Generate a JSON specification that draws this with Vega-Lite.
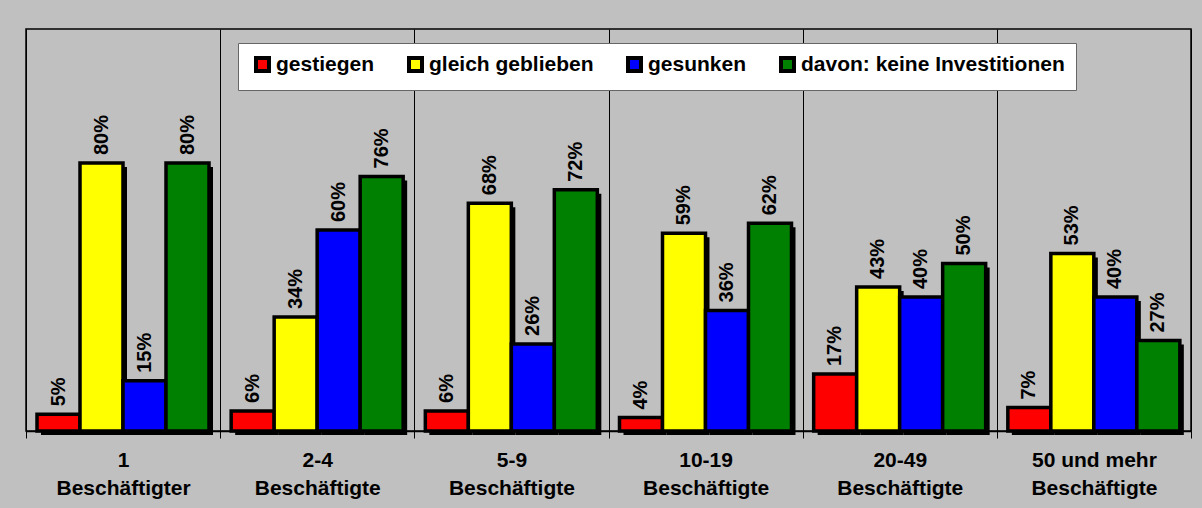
{
  "$schema": "https://vega.github.io/schema/vega-lite/v6.json",
  "width": 1165,
  "height": 402,
  "padding": {"left": 25, "top": 29, "right": 12, "bottom": 20},
  "background": "#c0c0c0",
  "config": {
    "view": {"stroke": "#000000", "strokeWidth": 1.5},
    "font": "Liberation Sans",
    "legend": {"symbolStrokeWidth": 4, "symbolStrokeColor": "#000000"}
  },
  "data": {
    "values": [
      {"gruppe": "1|Beschäftigter", "serie": "gestiegen", "wert": 0.05},
      {"gruppe": "1|Beschäftigter", "serie": "gleich geblieben", "wert": 0.80},
      {"gruppe": "1|Beschäftigter", "serie": "gesunken", "wert": 0.15},
      {"gruppe": "1|Beschäftigter", "serie": "davon: keine Investitionen", "wert": 0.80},
      {"gruppe": "2-4|Beschäftigte", "serie": "gestiegen", "wert": 0.06},
      {"gruppe": "2-4|Beschäftigte", "serie": "gleich geblieben", "wert": 0.34},
      {"gruppe": "2-4|Beschäftigte", "serie": "gesunken", "wert": 0.60},
      {"gruppe": "2-4|Beschäftigte", "serie": "davon: keine Investitionen", "wert": 0.76},
      {"gruppe": "5-9|Beschäftigte", "serie": "gestiegen", "wert": 0.06},
      {"gruppe": "5-9|Beschäftigte", "serie": "gleich geblieben", "wert": 0.68},
      {"gruppe": "5-9|Beschäftigte", "serie": "gesunken", "wert": 0.26},
      {"gruppe": "5-9|Beschäftigte", "serie": "davon: keine Investitionen", "wert": 0.72},
      {"gruppe": "10-19|Beschäftigte", "serie": "gestiegen", "wert": 0.04},
      {"gruppe": "10-19|Beschäftigte", "serie": "gleich geblieben", "wert": 0.59},
      {"gruppe": "10-19|Beschäftigte", "serie": "gesunken", "wert": 0.36},
      {"gruppe": "10-19|Beschäftigte", "serie": "davon: keine Investitionen", "wert": 0.62},
      {"gruppe": "20-49|Beschäftigte", "serie": "gestiegen", "wert": 0.17},
      {"gruppe": "20-49|Beschäftigte", "serie": "gleich geblieben", "wert": 0.43},
      {"gruppe": "20-49|Beschäftigte", "serie": "gesunken", "wert": 0.40},
      {"gruppe": "20-49|Beschäftigte", "serie": "davon: keine Investitionen", "wert": 0.50},
      {"gruppe": "50 und mehr|Beschäftigte", "serie": "gestiegen", "wert": 0.07},
      {"gruppe": "50 und mehr|Beschäftigte", "serie": "gleich geblieben", "wert": 0.53},
      {"gruppe": "50 und mehr|Beschäftigte", "serie": "gesunken", "wert": 0.40},
      {"gruppe": "50 und mehr|Beschäftigte", "serie": "davon: keine Investitionen", "wert": 0.27}
    ]
  },
  "resolve": {"scale": {"xOffset": "independent"}},
  "layer": [
    {
      "mark": {"type": "bar", "fill": "#000000", "yOffset": 4},
      "encoding": {
        "x": {
          "field": "gruppe", "type": "nominal",
          "sort": ["1|Beschäftigter", "2-4|Beschäftigte", "5-9|Beschäftigte", "10-19|Beschäftigte", "20-49|Beschäftigte", "50 und mehr|Beschäftigte"],
          "scale": {"paddingInner": 0, "paddingOuter": 0},
          "axis": {
            "title": null,
            "labelExpr": "split(datum.label, '|')",
            "labelAngle": 0,
            "labelFontSize": 21,
            "labelFontWeight": "bold",
            "labelColor": "#000000",
            "labelLineHeight": 28,
            "labelPadding": 11,
            "labelBaseline": "top",
            "tickBand": "extent",
            "tickSize": 7,
            "tickColor": "#000000",
            "grid": true,
            "gridColor": "#000000",
            "gridWidth": 1,
            "gridOpacity": 1,
            "domainColor": "#000000",
            "domainWidth": 1.5
          }
        },
        "xOffset": {
          "field": "serie", "type": "nominal",
          "sort": ["gestiegen", "gleich geblieben", "gesunken", "davon: keine Investitionen"],
          "scale": {"range": [15, 187], "paddingInner": 0, "paddingOuter": 0}
        },
        "y": {"field": "wert", "type": "quantitative", "scale": {"domain": [0, 1.2]}, "axis": null}
      }
    },
    {
      "mark": {"type": "bar", "stroke": "#000000", "strokeWidth": 3.5},
      "encoding": {
        "x": {
          "field": "gruppe", "type": "nominal",
          "sort": ["1|Beschäftigter", "2-4|Beschäftigte", "5-9|Beschäftigte", "10-19|Beschäftigte", "20-49|Beschäftigte", "50 und mehr|Beschäftigte"]
        },
        "xOffset": {
          "field": "serie", "type": "nominal",
          "sort": ["gestiegen", "gleich geblieben", "gesunken", "davon: keine Investitionen"],
          "scale": {"range": [11, 183], "paddingInner": 0, "paddingOuter": 0}
        },
        "y": {"field": "wert", "type": "quantitative"},
        "color": {
          "field": "serie", "type": "nominal",
          "scale": {
            "domain": ["gestiegen", "gleich geblieben", "gesunken", "davon: keine Investitionen"],
            "range": ["#ff0000", "#ffff00", "#0000ff", "#008000"]
          },
          "legend": {
            "orient": "none",
            "legendX": 212,
            "legendY": 14,
            "direction": "horizontal",
            "columns": 4,
            "title": null,
            "fillColor": "#ffffff",
            "strokeColor": "#666666",
            "padding": 11,
            "labelFontSize": 21,
            "labelFontWeight": "bold",
            "labelColor": "#000000",
            "labelLimit": 500,
            "symbolType": "square",
            "symbolSize": 169,
            "symbolStrokeColor": "#000000",
            "symbolStrokeWidth": 4,
            "symbolOpacity": 1,
            "symbolOffset": 3,
            "columnPadding": 26,
            "labelOffset": 3,
            "encode": {
              "symbols": {
                "enter": {
                  "stroke": {"value": "#000000"},
                  "strokeWidth": {"value": 4}
                },
                "update": {
                  "stroke": {"value": "#000000"},
                  "strokeWidth": {"value": 4}
                }
              }
            }
          }
        }
      }
    },
    {
      "mark": {"type": "text", "angle": 270, "align": "left", "baseline": "middle", "dx": 8, "fontSize": 20, "fontWeight": "bold", "color": "#000000"},
      "encoding": {
        "x": {
          "field": "gruppe", "type": "nominal",
          "sort": ["1|Beschäftigter", "2-4|Beschäftigte", "5-9|Beschäftigte", "10-19|Beschäftigte", "20-49|Beschäftigte", "50 und mehr|Beschäftigte"]
        },
        "xOffset": {
          "field": "serie", "type": "nominal",
          "sort": ["gestiegen", "gleich geblieben", "gesunken", "davon: keine Investitionen"],
          "scale": {"type": "point", "range": [32.5, 161.5], "padding": 0}
        },
        "y": {"field": "wert", "type": "quantitative"},
        "text": {"field": "wert", "type": "quantitative", "format": ".0%"}
      }
    }
  ]
}
